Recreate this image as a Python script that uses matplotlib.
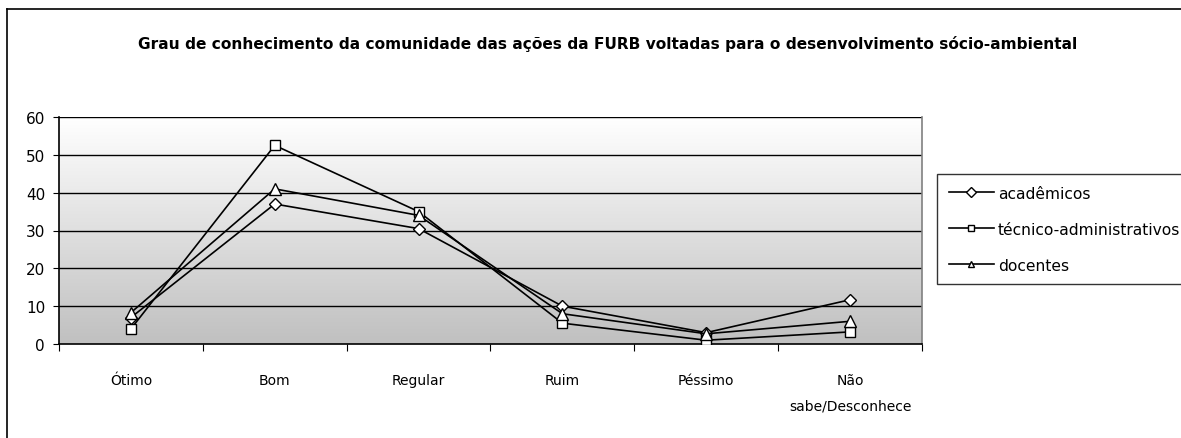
import numpy as np
import matplotlib
matplotlib.use("Agg")
import matplotlib.pyplot as plt
from matplotlib.lines import Line2D
from matplotlib.colors import LinearSegmentedColormap

categories = ["Ótimo", "Bom", "Regular", "Ruim", "Péssimo", "Não\nsabe/Desconhece"]
academicos = [7, 37, 30.5, 10, 3, 11.7]
tecnicos = [4, 52.5, 35, 5.5, 1, 3.2]
docentes = [8.3, 41, 34, 8, 2.7, 6]
series_names = ["acadêmicos", "técnico-administrativos", "docentes"]
yticks = [0, 10, 20, 30, 40, 50, 60]
title = "Grau de conhecimento da comunidade das ações da FURB voltadas para o desenvolvimento sócio-ambiental"

W, H = 1181, 439
fig = plt.figure(figsize=(W / 100, H / 100), dpi=100)
plt.rcParams['font.family'] = ['DejaVu Sans']

# outer border
fig.add_artist(Line2D([7 / W, 7 / W], [0, 1 - 10 / H], color='black', lw=1.2, transform=fig.transFigure))
fig.add_artist(Line2D([7 / W, 1], [1 - 10 / H, 1 - 10 / H], color='black', lw=1.2, transform=fig.transFigure))

x0, x1 = 59, 922
ytop, ybot = 118, 345
ax = fig.add_axes([x0 / W, 1 - ybot / H, (x1 - x0) / W, (ybot - ytop) / H])

n = len(categories)
ax.set_xlim(0, n)
ax.set_ylim(0, 60)

# gradient background
cmap = LinearSegmentedColormap.from_list("g", ["#c0c0c0", "#ffffff"])
ax.imshow(np.linspace(0, 1, 256).reshape(-1, 1), extent=[0, n, 0, 60], aspect='auto', cmap=cmap,
          origin='lower', zorder=0, vmin=0, vmax=1)

for yv in yticks[1:]:
    ax.axhline(yv, color='black', lw=1.0, zorder=1)

xs = np.arange(n) + 0.5
ms = 7
ax.plot(xs, academicos, color='black', lw=1.2, marker='D', markersize=6, markerfacecolor='white',
        markeredgecolor='black', markeredgewidth=1.0, label=series_names[0], zorder=3)
ax.plot(xs, tecnicos, color='black', lw=1.2, marker='s', markersize=ms, markerfacecolor='white',
        markeredgecolor='black', markeredgewidth=1.0, label=series_names[1], zorder=3)
ax.plot(xs, docentes, color='black', lw=1.2, marker='^', markersize=ms + 1, markerfacecolor='white',
        markeredgecolor='black', markeredgewidth=1.0, label=series_names[2], zorder=3)

ax.set_yticks(yticks)
ax.set_yticklabels([str(v) for v in yticks], fontsize=11)
ax.set_xticks(np.arange(n + 1))
ax.set_xticklabels([])
ax.set_xticks(xs, minor=True)
ax.set_xticklabels(categories, minor=True, fontsize=10, linespacing=2.0, va='top')
ax.tick_params(axis='x', which='minor', length=0, pad=21)
ax.tick_params(axis='x', which='major', length=5, direction='out', color='black')
ax.tick_params(axis='y', length=4, direction='out', pad=6)

for s in ['left', 'bottom']:
    ax.spines[s].set_color('black')
    ax.spines[s].set_linewidth(1.2)
ax.spines['top'].set_visible(False)
ax.spines['right'].set_color('#808080')
ax.spines['right'].set_linewidth(1.2)

fig.text(608 / W, 1 - 44 / H, title, ha='center', va='center', fontsize=11.1, fontweight='bold')

leg = fig.legend(loc='upper left', bbox_to_anchor=(937 / W, 1 - 175 / H), fontsize=11.2,
                 frameon=True, fancybox=False, edgecolor='black', handlelength=2.9,
                 handletextpad=0.25, borderaxespad=0, labelspacing=1.35, borderpad=0.75)
leg.get_frame().set_linewidth(1.0)
for h in leg.legend_handles:
    h.set_markersize(5)

fig.savefig("out.png", dpi=100)
